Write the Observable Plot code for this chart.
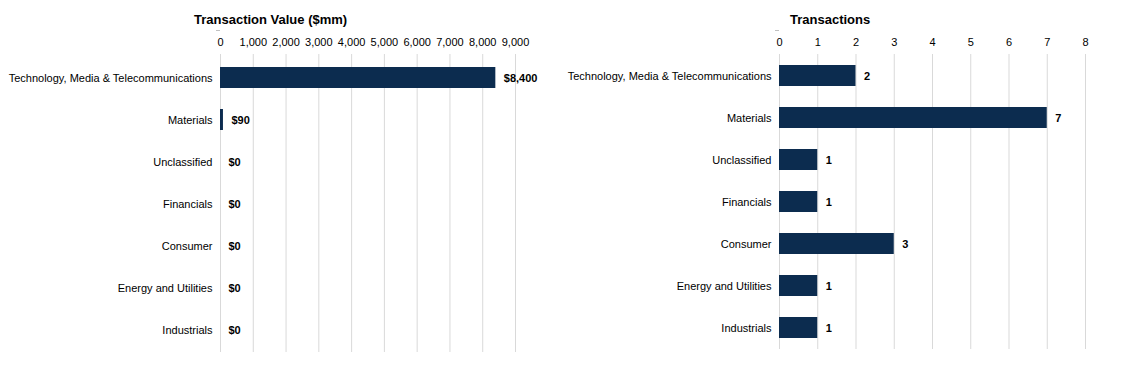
<!DOCTYPE html>
<html>
<head>
<meta charset="utf-8">
<script src="https://cdn.jsdelivr.net/npm/d3@7"></script>
<script src="https://cdn.jsdelivr.net/npm/@observablehq/plot@0.6"></script>
<style>
  body { margin: 0; background: #fff; font-family: "Liberation Sans", Arial, sans-serif; }
  #wrap { position: relative; width: 1121px; height: 372px; overflow: hidden; }
  .title { position: absolute; top: 12px; font-weight: bold; font-size: 13px; color: #000; white-space: nowrap; line-height: 15px; }
  .chart { position: absolute; top: 30px; }
  .chart svg { display: block; }
</style>
</head>
<body>
<div id="wrap">
  <div class="title" id="t1" style="left:194px">Transaction Value ($mm)</div>
  <div class="title" id="t2" style="left:790px">Transactions</div>
  <div class="chart" id="c1" style="left:0px"></div>
  <div class="chart" id="c2" style="left:560px"></div>
</div>
<script>
const categories = [
  "Technology, Media & Telecommunications",
  "Materials",
  "Unclassified",
  "Financials",
  "Consumer",
  "Energy and Utilities",
  "Industrials"
];
const transactionValues = [8400, 90, 0, 0, 0, 0, 0];
const transactionCounts = [2, 7, 1, 1, 3, 1, 1];
const valueTicks = [0, 1000, 2000, 3000, 4000, 5000, 6000, 7000, 8000, 9000];
const countTicks = [0, 1, 2, 3, 4, 5, 6, 7, 8];

const barColor = "#0c2c4f";
const gridColor = "#d9d9d9";
const fmt = d3.format(",");

const valueData = categories.map((c, i) => ({category: c, value: transactionValues[i]}));
const countData = categories.map((c, i) => ({category: c, value: transactionCounts[i]}));

// small tick marks at the category band boundaries, left of the value axis
function boundaryTicks(index, scales, values, dimensions) {
  const y = scales.y, x = scales.x;
  const bw = y.bandwidth || 0;
  const centers = categories.map(c => y(c) + bw / 2);
  const step = centers.length > 1 ? centers[1] - centers[0] : bw * 2;
  const bounds = [centers[0] - step / 2, ...centers.map(c => c + step / 2)];
  const x0 = x(0);
  const g = d3.create("svg:g");
  g.selectAll("line").data(bounds).join("line")
    .attr("x1", x0 - 4).attr("x2", x0)
    .attr("y1", d => d).attr("y2", d => d)
    .attr("stroke", "#bfbfbf");
  return g.node();
}

function makeChart({data, width, marginLeft, marginRight, marginBottom, domain, ticks, label}) {
  return Plot.plot({
    width,
    height: 342,
    marginTop: 24,
    marginBottom,
    marginLeft,
    marginRight,
    style: {fontFamily: '"Liberation Sans", Arial, sans-serif', fontSize: "11px", color: "#000", background: "#fff"},
    x: {domain, ticks, label: null},
    y: {domain: categories, paddingInner: 0.5, paddingOuter: 0.25, label: null},
    marks: [
      Plot.gridX(ticks, {stroke: gridColor, strokeOpacity: 1}),
      boundaryTicks,
      Plot.axisX({anchor: "top", ticks, tickFormat: fmt, tickSize: 0, tickPadding: 9, label: null}),
      Plot.axisY({anchor: "left", tickSize: 0, tickPadding: 8, label: null}),
      Plot.barX(data, {y: "category", x: "value", fill: barColor}),
      Plot.text(data, {y: "category", x: "value", text: label, dx: 8, textAnchor: "start", fontWeight: "bold", fill: "#000"})
    ]
  });
}

document.getElementById("c1").append(makeChart({
  data: valueData, width: 560, marginLeft: 220, marginRight: 45, marginBottom: 20,
  domain: [0, 9000], ticks: valueTicks, label: d => "$" + fmt(d.value)
}));
document.getElementById("c2").append(makeChart({
  data: countData, width: 561, marginLeft: 219, marginRight: 36, marginBottom: 23,
  domain: [0, 8], ticks: countTicks, label: d => String(d.value)
}));
</script>
</body>
</html>
